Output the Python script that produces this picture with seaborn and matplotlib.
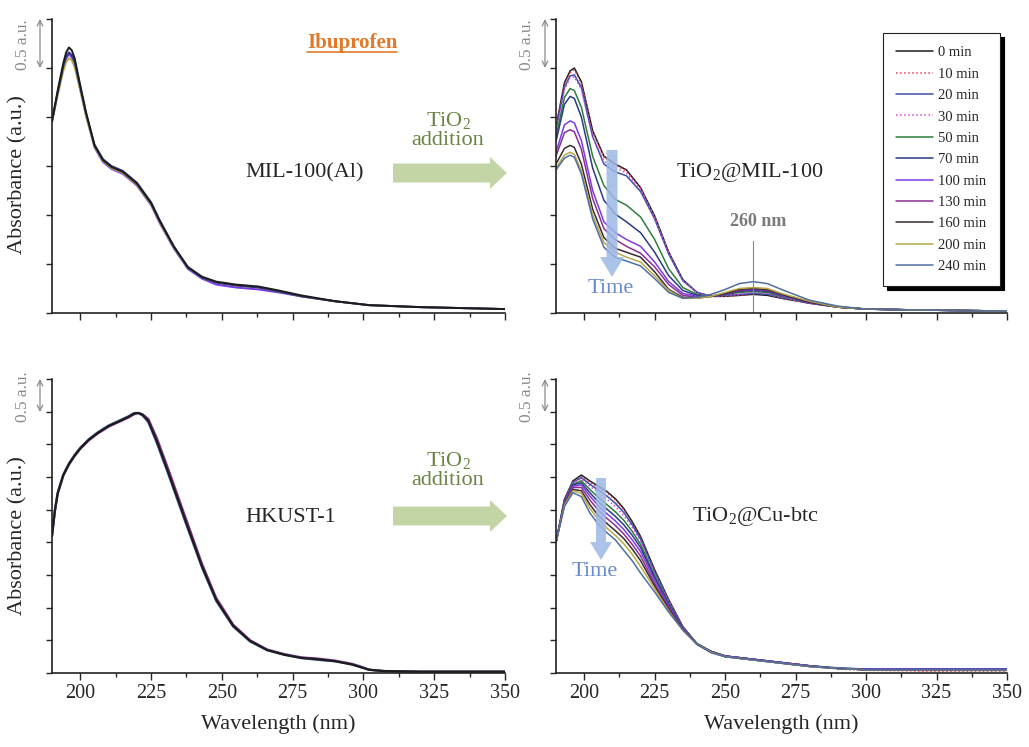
import numpy as np
import pandas as pd
import matplotlib
matplotlib.use("Agg")
import matplotlib.pyplot as plt
from matplotlib.patches import FancyArrow
from matplotlib.lines import Line2D
from matplotlib.ticker import MultipleLocator
import seaborn as sns

# ---------------- data ----------------
times = ["0 min", "10 min", "20 min", "30 min", "50 min", "70 min",
         "100 min", "130 min", "160 min", "200 min", "240 min"]
colors = ["#1c1c1c", "#e04050", "#3c4fa8", "#d04ad8", "#2f7d3c", "#2c3a84",
          "#7a3ae6", "#8a2f90", "#3a2a2e", "#b8a84a", "#4e6f9e"]
styles = ["-", ":", "-", ":", "-", "-", "-", "-", "-", "-", "-"]

# MIL-100(Al) + ibuprofen (curves overlap)
mil_wl = [190, 192, 194, 195, 196, 197, 198, 200, 202, 205, 208, 211, 215, 220, 225,
          228, 233, 238, 243, 248, 255, 263, 270, 278, 290, 302, 320, 350]
mil_a = [1.96, 2.27, 2.55, 2.66, 2.71, 2.68, 2.60, 2.32, 2.05, 1.71, 1.56, 1.49, 1.44, 1.32, 1.12,
         0.94, 0.68, 0.47, 0.37, 0.32, 0.29, 0.27, 0.23, 0.18, 0.12, 0.08, 0.06, 0.04]
mil_b = [1.95, 2.24, 2.50, 2.60, 2.64, 2.61, 2.54, 2.28, 2.02, 1.69, 1.54, 1.47, 1.42, 1.30, 1.10,
         0.92, 0.66, 0.45, 0.35, 0.29, 0.26, 0.24, 0.21, 0.17, 0.12, 0.08, 0.06, 0.04]
mil_c = [1.95, 2.22, 2.47, 2.56, 2.60, 2.58, 2.51, 2.27, 2.01, 1.70, 1.55, 1.48, 1.43, 1.31, 1.11,
         0.93, 0.67, 0.46, 0.36, 0.31, 0.28, 0.26, 0.22, 0.17, 0.12, 0.08, 0.06, 0.04]
mil_d = [1.96, 2.25, 2.52, 2.62, 2.66, 2.63, 2.56, 2.30, 2.04, 1.72, 1.57, 1.50, 1.45, 1.33, 1.13,
         0.95, 0.68, 0.46, 0.36, 0.31, 0.28, 0.26, 0.22, 0.17, 0.12, 0.08, 0.06, 0.04]
mil_curves = [mil_b, mil_c, mil_d, mil_a]
mil_colors = ["#7a3ae6", "#b8a84a", "#2c3a84", "#1c1c1c"]

# HKUST-1 + ibuprofen (curves overlap)
hk_wl = [190, 191, 192, 194, 196, 198, 200, 203, 206, 210, 214, 217, 219, 220.5, 222, 224,
         227, 231, 237, 243, 248, 254, 260, 266, 272, 278, 284, 290, 296, 299, 302,
         307, 320, 350]
hk_a = [2.10, 2.48, 2.75, 3.03, 3.20, 3.33, 3.44, 3.57, 3.67, 3.78, 3.86, 3.92, 3.97, 3.98, 3.95,
        3.86, 3.55, 3.08, 2.35, 1.63, 1.12, 0.72, 0.49, 0.35, 0.28, 0.23, 0.21, 0.18,
        0.13, 0.09, 0.05, 0.03, 0.02, 0.02]
hk_b = [2.10, 2.47, 2.74, 3.02, 3.19, 3.32, 3.43, 3.56, 3.66, 3.77, 3.85, 3.91, 3.96, 3.98, 3.96,
        3.89, 3.60, 3.13, 2.40, 1.67, 1.15, 0.74, 0.50, 0.36, 0.29, 0.24, 0.22, 0.19,
        0.14, 0.10, 0.05, 0.03, 0.02, 0.02]
hk_c = [2.10, 2.49, 2.76, 3.04, 3.21, 3.34, 3.45, 3.58, 3.68, 3.79, 3.87, 3.93, 3.98, 3.98, 3.94,
        3.84, 3.52, 3.05, 2.32, 1.61, 1.10, 0.71, 0.48, 0.35, 0.28, 0.23, 0.20, 0.18,
        0.13, 0.09, 0.05, 0.03, 0.02, 0.02]
hk_curves = [hk_b, hk_c, hk_a]
hk_colors = ["#8a2f90", "#4e6f9e", "#1c1c1c"]

# TiO2@MIL-100, one curve per irradiation time
tm_wl = [190, 193, 195, 196.5, 199, 203, 207, 211, 215, 220, 225, 230, 235, 240, 245, 250,
         255, 260, 265, 270, 280, 290, 300, 320, 350]
tm_0 = [1.90, 2.35, 2.47, 2.50, 2.36, 1.86, 1.60, 1.52, 1.46, 1.28, 0.99, 0.62, 0.34, 0.21, 0.17,
        0.17, 0.18, 0.19, 0.18, 0.15, 0.10, 0.06, 0.04, 0.03, 0.02]
tm_10 = [1.89, 2.33, 2.45, 2.48, 2.34, 1.85, 1.59, 1.51, 1.45, 1.27, 0.98, 0.61, 0.33, 0.21, 0.17,
         0.17, 0.18, 0.20, 0.19, 0.15, 0.10, 0.06, 0.04, 0.03, 0.02]
tm_20 = [1.88, 2.30, 2.42, 2.43, 2.30, 1.80, 1.52, 1.44, 1.40, 1.24, 0.96, 0.60, 0.33, 0.21, 0.17,
         0.18, 0.19, 0.20, 0.19, 0.16, 0.10, 0.06, 0.04, 0.03, 0.02]
tm_30 = [1.87, 2.28, 2.40, 2.41, 2.28, 1.80, 1.55, 1.48, 1.43, 1.26, 0.97, 0.61, 0.33, 0.21, 0.17,
         0.18, 0.19, 0.21, 0.20, 0.16, 0.10, 0.06, 0.04, 0.03, 0.02]
tm_50 = [1.80, 2.20, 2.29, 2.27, 2.10, 1.60, 1.30, 1.16, 1.10, 0.98, 0.75, 0.45, 0.26, 0.19, 0.17,
         0.19, 0.21, 0.22, 0.21, 0.17, 0.11, 0.06, 0.04, 0.03, 0.02]
tm_70 = [1.75, 2.13, 2.21, 2.19, 2.00, 1.48, 1.15, 1.01, 0.93, 0.82, 0.62, 0.38, 0.23, 0.18, 0.17,
         0.19, 0.22, 0.23, 0.22, 0.18, 0.11, 0.06, 0.04, 0.03, 0.02]
tm_100 = [1.64, 1.92, 1.96, 1.94, 1.76, 1.25, 0.93, 0.82, 0.75, 0.68, 0.52, 0.32, 0.20, 0.17, 0.17,
          0.20, 0.23, 0.24, 0.23, 0.18, 0.11, 0.06, 0.04, 0.03, 0.02]
tm_130 = [1.60, 1.84, 1.87, 1.85, 1.67, 1.17, 0.86, 0.75, 0.68, 0.61, 0.47, 0.29, 0.18, 0.16, 0.17,
          0.20, 0.23, 0.25, 0.23, 0.19, 0.11, 0.06, 0.04, 0.03, 0.02]
tm_160 = [1.52, 1.68, 1.71, 1.69, 1.52, 1.06, 0.77, 0.66, 0.62, 0.57, 0.42, 0.24, 0.16, 0.15, 0.17,
          0.20, 0.24, 0.25, 0.24, 0.19, 0.11, 0.06, 0.04, 0.03, 0.02]
tm_200 = [1.48, 1.61, 1.64, 1.62, 1.45, 1.00, 0.72, 0.62, 0.57, 0.52, 0.38, 0.23, 0.15, 0.15, 0.17,
          0.21, 0.25, 0.26, 0.25, 0.20, 0.12, 0.06, 0.04, 0.03, 0.02]
tm_240 = [1.46, 1.58, 1.61, 1.59, 1.42, 0.96, 0.67, 0.57, 0.53, 0.48, 0.35, 0.21, 0.15, 0.16, 0.19,
          0.24, 0.30, 0.32, 0.30, 0.24, 0.13, 0.07, 0.04, 0.03, 0.02]
tm_curves = [tm_0, tm_10, tm_20, tm_30, tm_50, tm_70, tm_100, tm_130, tm_160, tm_200, tm_240]

# TiO2@Cu-btc, one curve per irradiation time
tc_wl = [190, 193, 196, 199, 202, 205, 208, 211, 214, 217, 220, 225, 230, 235, 240, 245,
         250, 260, 270, 280, 290, 300, 320, 350]
tc_0 = [2.00, 2.66, 2.94, 3.03, 2.94, 2.86, 2.78, 2.67, 2.52, 2.32, 2.09, 1.58, 1.12, 0.71,
        0.45, 0.33, 0.26, 0.21, 0.16, 0.11, 0.07, 0.05, 0.04, 0.04]
tc_10 = [2.00, 2.65, 2.93, 3.01, 2.92, 2.84, 2.76, 2.65, 2.50, 2.30, 2.07, 1.56, 1.10, 0.70,
         0.44, 0.32, 0.25, 0.20, 0.15, 0.10, 0.06, 0.04, 0.03, 0.03]
tc_20 = [2.00, 2.65, 2.92, 2.99, 2.89, 2.80, 2.71, 2.60, 2.46, 2.27, 2.05, 1.55, 1.10, 0.70,
         0.45, 0.33, 0.26, 0.21, 0.16, 0.11, 0.08, 0.06, 0.06, 0.06]
tc_30 = [2.00, 2.64, 2.91, 2.97, 2.86, 2.76, 2.66, 2.55, 2.41, 2.23, 2.02, 1.53, 1.09, 0.70,
         0.45, 0.33, 0.26, 0.21, 0.16, 0.11, 0.07, 0.05, 0.05, 0.05]
tc_50 = [2.00, 2.63, 2.89, 2.94, 2.81, 2.69, 2.58, 2.47, 2.34, 2.17, 1.97, 1.49, 1.07, 0.69,
         0.45, 0.33, 0.26, 0.21, 0.16, 0.11, 0.07, 0.05, 0.05, 0.05]
tc_70 = [2.00, 2.62, 2.88, 2.91, 2.76, 2.62, 2.51, 2.40, 2.27, 2.11, 1.92, 1.46, 1.05, 0.68,
         0.44, 0.33, 0.26, 0.21, 0.16, 0.11, 0.07, 0.06, 0.06, 0.06]
tc_100 = [2.00, 2.61, 2.86, 2.88, 2.71, 2.56, 2.44, 2.33, 2.20, 2.04, 1.86, 1.42, 1.03, 0.68,
          0.44, 0.32, 0.26, 0.21, 0.16, 0.11, 0.07, 0.06, 0.06, 0.06]
tc_130 = [2.00, 2.60, 2.84, 2.84, 2.65, 2.49, 2.37, 2.26, 2.13, 1.97, 1.79, 1.37, 1.00, 0.67,
          0.44, 0.32, 0.25, 0.20, 0.15, 0.10, 0.07, 0.05, 0.05, 0.05]
tc_160 = [2.00, 2.58, 2.81, 2.79, 2.58, 2.41, 2.29, 2.18, 2.06, 1.90, 1.72, 1.33, 0.98, 0.66,
          0.44, 0.32, 0.25, 0.20, 0.15, 0.10, 0.07, 0.05, 0.05, 0.05]
tc_200 = [2.00, 2.57, 2.79, 2.75, 2.52, 2.35, 2.22, 2.11, 1.98, 1.82, 1.63, 1.29, 0.95, 0.65,
          0.44, 0.32, 0.25, 0.20, 0.15, 0.10, 0.07, 0.05, 0.05, 0.05]
tc_240 = [2.00, 2.55, 2.76, 2.70, 2.45, 2.28, 2.15, 2.04, 1.88, 1.72, 1.53, 1.24, 0.93, 0.66,
          0.44, 0.31, 0.25, 0.20, 0.15, 0.10, 0.07, 0.05, 0.05, 0.05]
tc_curves = [tc_0, tc_10, tc_20, tc_30, tc_50, tc_70, tc_100, tc_130, tc_160, tc_200, tc_240]

xticks = [200, 225, 250, 275, 300, 325, 350]

# ---------------- style ----------------
sns.set_style("ticks")
plt.rcParams['font.family'] = ['Liberation Serif', 'DejaVu Serif']
plt.rcParams['mathtext.fontset'] = 'custom'
plt.rcParams['mathtext.rm'] = 'Liberation Serif'
plt.rcParams['mathtext.it'] = 'Liberation Serif:italic'

W, H = 1029, 747
fig = plt.figure(figsize=(W / 100, H / 100), dpi=100)


def fx(px):
    return px / W


def fy(py):
    return 1 - py / H


def make_ax(x0, x1, ytop, ybot, ymax, bottom_labels):
    ax = fig.add_axes([fx(x0), fy(ybot), fx(x1) - fx(x0), fy(ytop) - fy(ybot)])
    ax.set_xlim(190, 350)
    ax.set_ylim(0, ymax)
    sns.despine(ax=ax)
    ax.set_xticks(xticks)
    ax.xaxis.set_minor_locator(MultipleLocator(12.5))
    ax.yaxis.set_major_locator(MultipleLocator(0.5))
    ax.set_yticklabels([])
    ax.tick_params(axis='x', which='major', direction='out', length=5, width=1, labelsize=14.5, pad=3)
    ax.tick_params(axis='x', which='minor', direction='out', length=3, width=1)
    ax.tick_params(axis='y', which='major', direction='out', length=4, width=1)
    for s in ax.spines.values():
        s.set_linewidth(1.2)
        s.set_color("#222222")
    if bottom_labels:
        ax.set_xlabel("Wavelength (nm)", fontsize=16, labelpad=8)
    else:
        ax.set_xticklabels([])
    return ax


ax_tl = make_ax(52, 505, 19, 313, 3.0, False)
ax_tr = make_ax(556, 1007, 19, 313, 3.0, False)
ax_bl = make_ax(52, 505, 379, 673, 4.5, True)
ax_br = make_ax(556, 1007, 379, 673, 4.5, True)

ax_tl.set_ylabel("Absorbance (a.u.)", fontsize=16)
ax_tl.yaxis.set_label_coords(-0.055, 0.47)
ax_bl.set_ylabel("Absorbance (a.u.)", fontsize=16)
ax_bl.yaxis.set_label_coords(-0.055, 0.466)

# curves
for vals, c in zip(mil_curves, mil_colors):
    sns.lineplot(x=mil_wl, y=vals, ax=ax_tl, color=c, lw=1.4)
for vals, c in zip(hk_curves, hk_colors):
    sns.lineplot(x=hk_wl, y=vals, ax=ax_bl, color=c, lw=1.6)
for vals, c, ls, lab in zip(tm_curves, colors, styles, times):
    sns.lineplot(x=tm_wl, y=vals, ax=ax_tr, color=c, lw=1.1, linestyle=ls, label=lab)
for vals, c, ls in zip(tc_curves, colors, styles):
    sns.lineplot(x=tc_wl, y=vals, ax=ax_br, color=c, lw=1.1, linestyle=ls)

leg = ax_tr.legend(loc='upper left', bbox_to_anchor=(0.725, 0.952), borderaxespad=0,
                   fontsize=10.5, frameon=True, fancybox=False,
                   shadow={'color': 'black', 'alpha': 1, 'ox': 3, 'oy': -3},
                   edgecolor='#222222', framealpha=1, handlelength=2.5,
                   labelspacing=0.56, borderpad=0.9, handletextpad=0.4)
leg.get_frame().set_linewidth(0.8)

# 260 nm marker
ax_tr.plot([260, 260], [0.0, 0.73], color="#888888", lw=0.8)
fig.text(fx(758), fy(222), "260 nm", ha='center', va='center', fontsize=13,
         fontweight='bold', color="#7a7a7a")

# 0.5 a.u. scale bars
for xt, xa, y1, y2 in [(23, 40, 19, 68), (527, 545, 19, 68),
                       (23, 40, 379, 412), (527, 545, 379, 412)]:
    fig.text(fx(xt), fy((y1 + y2) / 2 + 1), "0.5 a.u.", rotation=90, ha='center',
             va='center', fontsize=12.5, color="#8a8a8a")
    fig.add_artist(plt.Annotation('', xy=(fx(xa), fy(y1)), xytext=(fx(xa), fy(y2)),
                                  xycoords='figure fraction', textcoords='figure fraction',
                                  arrowprops=dict(arrowstyle='<->', color='#8a8a8a', lw=0.9,
                                                  shrinkA=0, shrinkB=0)))

# sample names
fig.text(fx(305), fy(173), "MIL-100(Al)", ha='center', va='center', fontsize=16)
fig.text(fx(291), fy(517), "HKUST-1", ha='center', va='center', fontsize=16)
fig.text(fx(750), fy(172), "TiO$_2$@MIL-100", ha='center', va='center', fontsize=16)
fig.text(fx(755), fy(517), "TiO$_2$@Cu-btc", ha='center', va='center', fontsize=16)

# TiO2 addition arrows
green_txt = "#6a8444"
for ytxt, yarr in [(130, 173), (470, 516)]:
    fig.text(fx(448), fy(ytxt), "TiO$_2$\naddition", ha='center', va='center',
             fontsize=16, color=green_txt, linespacing=1.0)
    fig.add_artist(FancyArrow(3.93, (H - yarr) / 100, 1.14, 0, width=0.19,
                              head_width=0.32, head_length=0.17,
                              length_includes_head=True, color="#c3d5a6", lw=0,
                              transform=fig.dpi_scale_trans))

# Time arrows
blue_arr = "#9db8e6"
blue_txt = "#6a8ad0"
fig.add_artist(FancyArrow(6.12, (H - 150) / 100, 0, -1.27, width=0.11, head_width=0.24,
                          head_length=0.2, length_includes_head=True, color=blue_arr,
                          lw=0, alpha=0.85, transform=fig.dpi_scale_trans))
fig.text(fx(611), fy(289), "Time", ha='center', va='center', fontsize=16, color=blue_txt)
fig.add_artist(FancyArrow(6.01, (H - 478) / 100, 0, -0.82, width=0.1, head_width=0.22,
                          head_length=0.18, length_includes_head=True, color=blue_arr,
                          lw=0, alpha=0.85, transform=fig.dpi_scale_trans))
fig.text(fx(595), fy(572), "Time", ha='center', va='center', fontsize=16, color=blue_txt)

# Ibuprofen title, underlined
t = fig.text(fx(352), fy(43), "Ibuprofen", ha='center', va='center', fontsize=15,
             fontweight='bold', color="#e07a2a")
fig.canvas.draw()
bb = t.get_window_extent().transformed(fig.transFigure.inverted())
fig.add_artist(Line2D([bb.x0, bb.x1], [bb.y0 + 0.002, bb.y0 + 0.002],
                      transform=fig.transFigure, color="#e07a2a", lw=1.2))

fig.savefig("out.png", dpi=100)
